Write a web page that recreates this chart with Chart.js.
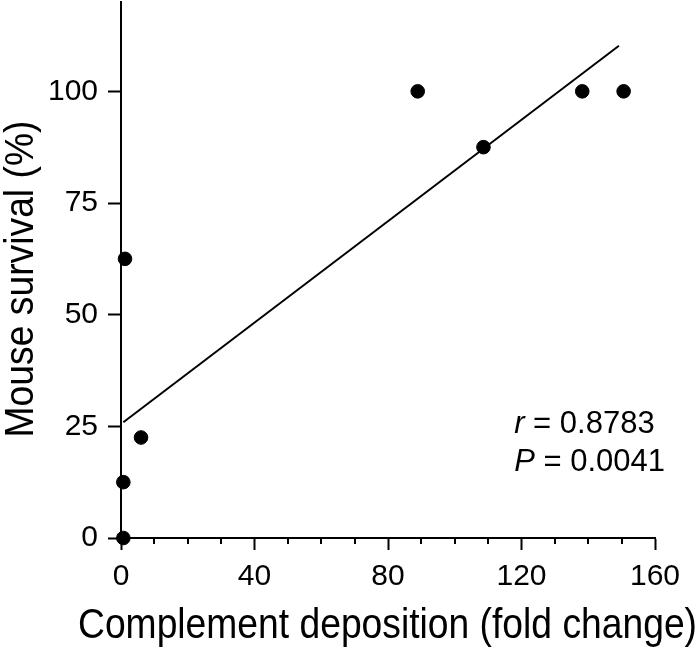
<!DOCTYPE html>
<html>
<head>
<meta charset="utf-8">
<script src="https://cdn.jsdelivr.net/npm/chart.js@4/dist/chart.umd.min.js"></script>
<style>
  html, body { margin: 0; padding: 0; background: #fff; }
  #wrap { width: 700px; height: 647px; position: relative; }
</style>
</head>
<body>
<div id="wrap"><canvas id="c" width="700" height="647"></canvas></div>
<script>
// ---- data ----
const complementFold = [0.7, 0.7, 1.2, 6.0, 88.9, 108.6, 138.2, 150.6];
const mouseSurvival  = [0, 12.5, 62.5, 22.5, 100, 87.5, 100, 100];
const fitLineX = [0.7, 149.2];
const fitLineY = [25.9, 110.2];
const xTickLabels = [0, 40, 80, 120, 160];
const xMinorStep = 10;
const yTickLabels = [0, 25, 50, 75, 100];
const xTitle = 'Complement deposition (fold change)';
const yTitle = 'Mouse survival (%)';
const statLines = [["r", " = 0.8783"], ["P", " = 0.0041"]];

const FONT = "'Liberation Sans', Arial, Helvetica, sans-serif";

const points = complementFold.map((x, i) => ({x: x, y: mouseSurvival[i]}));
const fit = fitLineX.map((x, i) => ({x: x, y: fitLineY[i]}));

function drawFittedText(ctx, text, fontPx, targetWidth, cx, baseY, angle) {
  ctx.save();
  ctx.font = fontPx + "px " + FONT;
  const w = ctx.measureText(text).width;
  ctx.translate(cx, baseY);
  ctx.rotate(angle);
  ctx.scale(targetWidth / w, 1);
  ctx.textAlign = 'center';
  ctx.textBaseline = 'alphabetic';
  ctx.fillText(text, 0, 0);
  ctx.restore();
}

const extras = {
  id: 'extras',
  afterDraw(chart) {
    const xs = chart.scales.x;
    const ys = chart.scales.y;
    const ctx = chart.ctx;
    const area = chart.chartArea;
    ctx.save();
    // minor ticks on x axis
    ctx.strokeStyle = '#000';
    ctx.lineWidth = 2;
    for (let v = xs.min; v <= xs.max; v += xMinorStep) {
      if (xTickLabels.includes(v)) continue;
      const px = Math.round(xs.getPixelForValue(v));
      ctx.beginPath();
      ctx.moveTo(px, area.bottom);
      ctx.lineTo(px, area.bottom + 6);
      ctx.stroke();
    }
    ctx.fillStyle = '#000';
    // axis titles
    drawFittedText(ctx, yTitle, 41, 317, 33, 279, -Math.PI / 2);
    drawFittedText(ctx, xTitle, 42, 619, 387.5, 638, 0);
    // stats text
    const tx = xs.getPixelForValue(117.8);
    const ty = ys.getPixelForValue(23.4);
    ctx.textAlign = 'left';
    ctx.textBaseline = 'alphabetic';
    statLines.forEach((parts, i) => {
      const y = ty + i * 38;
      ctx.font = "italic 31px " + FONT;
      ctx.fillText(parts[0], tx, y);
      const pw = ctx.measureText(parts[0]).width;
      ctx.font = "31px " + FONT;
      ctx.fillText(parts[1], tx + pw, y);
    });
    ctx.restore();
  }
};

new Chart(document.getElementById('c'), {
  type: 'scatter',
  data: {
    datasets: [
      {
        type: 'line',
        data: fit,
        borderColor: '#000',
        borderWidth: 2,
        pointRadius: 0,
        fill: false,
        clip: false,
        order: 2
      },
      {
        data: points,
        backgroundColor: '#000',
        borderColor: '#000',
        pointRadius: 6.8,
        pointHoverRadius: 6.8,
        clip: false,
        order: 1
      }
    ]
  },
  options: {
    responsive: false,
    animation: false,
    layout: { autoPadding: false, padding: { top: 2, right: 45, left: 0, bottom: 0 } },
    plugins: { legend: { display: false }, tooltip: { enabled: false } },
    scales: {
      x: {
        type: 'linear',
        min: 0, max: 160,
        afterFit(s) { s.height = 109; s.paddingLeft = 0; s.paddingRight = 0; },
        afterBuildTicks(s) { s.ticks = xTickLabels.map(v => ({value: v})); },
        border: { display: true, color: '#000', width: 2 },
        grid: { display: true, drawOnChartArea: false, drawTicks: true, tickLength: 12, tickColor: '#000', tickWidth: 2 },
        ticks: { color: '#000', font: { family: FONT, size: 30 }, padding: 9, maxRotation: 0 },
        title: { display: false, text: xTitle }
      },
      y: {
        type: 'linear',
        min: 0, max: 120,
        afterFit(s) { s.width = 121; s.paddingTop = 0; s.paddingBottom = 0; },
        afterBuildTicks(s) { s.ticks = yTickLabels.map(v => ({value: v})); },
        border: { display: true, color: '#000', width: 2 },
        grid: { display: true, drawOnChartArea: false, drawTicks: true, tickLength: 13, tickColor: '#000', tickWidth: 2 },
        ticks: { color: '#000', font: { family: FONT, size: 30 }, padding: 10 },
        title: { display: false, text: yTitle }
      }
    }
  },
  plugins: [extras]
});
</script>
</body>
</html>
